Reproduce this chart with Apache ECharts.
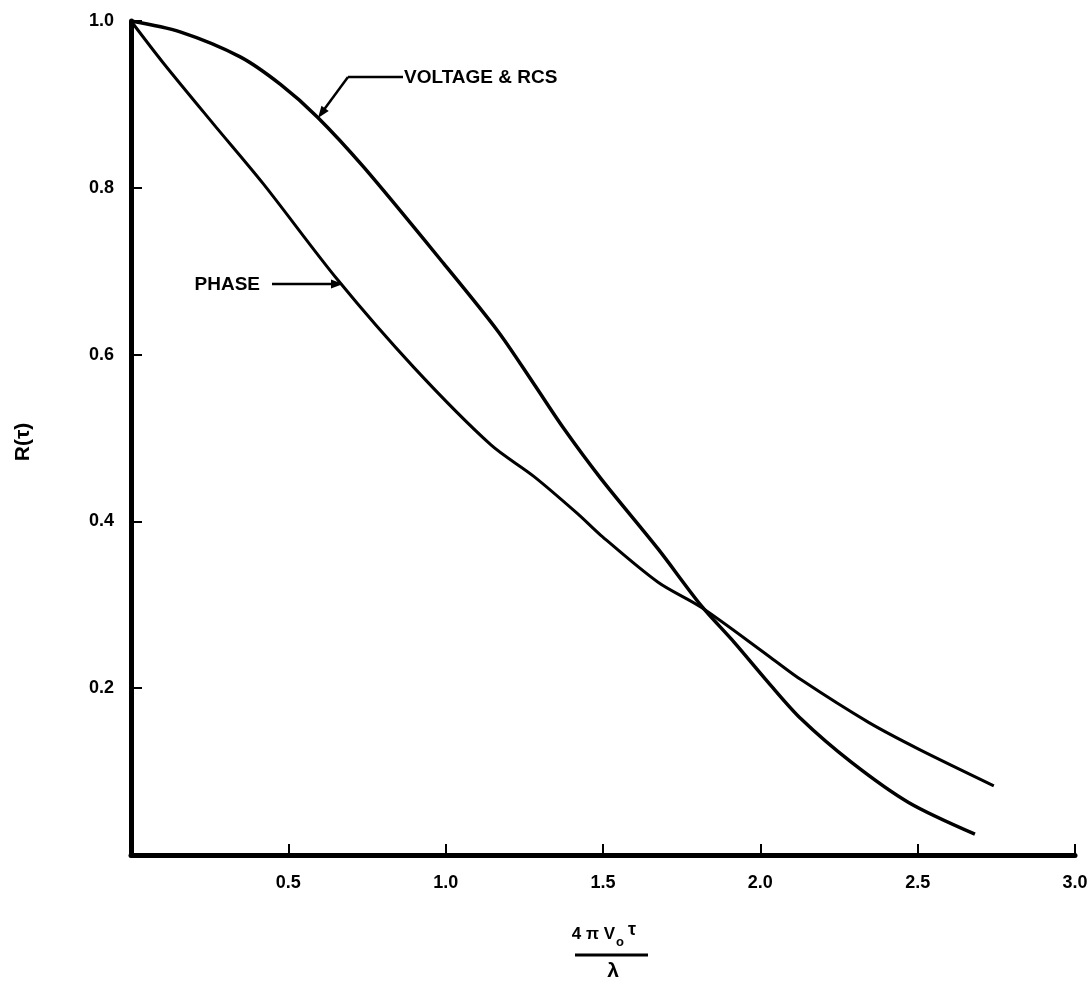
<!DOCTYPE html>
<html>
<head>
<meta charset="utf-8">
<script src="https://cdn.jsdelivr.net/npm/echarts@6/dist/echarts.min.js"></script>
<style>
html,body{margin:0;padding:0;background:#fff;}
#chart{width:1091px;height:986px;}
</style>
</head>
<body>
<div id="chart"></div>
<script>
// Voltage & RCS curve (x, R)
const voltageX = [0, 0.156, 0.347, 0.475, 0.592, 0.739, 0.994, 1.166, 1.28, 1.376, 1.494, 1.675, 1.812, 1.917, 2.025, 2.13, 2.29, 2.471, 2.682];
const voltageY = [1.0, 0.987, 0.957, 0.924, 0.885, 0.825, 0.709, 0.628, 0.565, 0.511, 0.451, 0.367, 0.299, 0.255, 0.207, 0.163, 0.111, 0.063, 0.025];
// Phase curve (x, R)
const phaseX = [0, 0.102, 0.261, 0.42, 0.656, 0.898, 1.143, 1.28, 1.42, 1.494, 1.675, 1.812, 2.025, 2.13, 2.344, 2.503, 2.742];
const phaseY = [1.0, 0.950, 0.877, 0.805, 0.690, 0.585, 0.492, 0.454, 0.409, 0.383, 0.327, 0.297, 0.239, 0.210, 0.159, 0.127, 0.083];
// Tick labels
const xTickLabels = ['0.5', '1.0', '1.5', '2.0', '2.5', '3.0'];
const yTickLabels = ['0.2', '0.4', '0.6', '0.8', '1.0'];

const FONT = '"Liberation Sans", Arial, sans-serif';
const chart = echarts.init(document.getElementById('chart'), null, {renderer: 'canvas'});

function pairs(xs, ys) { return xs.map((x, i) => [x, ys[i]]); }

function arrowHead(tx, ty, fx, fy, L, w) {
  let dx = tx - fx, dy = ty - fy;
  const n = Math.sqrt(dx * dx + dy * dy); dx /= n; dy /= n;
  const bx = tx - dx * L, by = ty - dy * L;
  return {type: 'polygon', shape: {points: [[tx, ty], [bx - dy * w, by + dx * w], [bx + dy * w, by - dx * w]]}, style: {fill: '#000'}};
}

const lineStyle = {stroke: '#000', lineWidth: 2.5};
const boldText = (t, x, y, size, align, vAlign, extra) => Object.assign({
  type: 'text', x: x, y: y,
  style: {text: t, font: 'bold ' + size + 'px ' + FONT, fill: '#000', align: align, verticalAlign: vAlign}
}, extra || {});

const option = {
  backgroundColor: '#fff',
  animation: false,
  grid: {left: 131, right: 16, top: 21, bottom: 131, containLabel: false},
  xAxis: {
    type: 'value', min: 0, max: 3, interval: 0.5,
    axisLine: {show: true, lineStyle: {color: '#000', width: 5}},
    axisTick: {show: true, inside: true, length: 11, lineStyle: {color: '#000', width: 2}},
    splitLine: {show: false},
    axisLabel: {
      margin: 19, color: '#000', fontFamily: FONT, fontWeight: 'bold', fontSize: 18,
      formatter: function (v) { const s = v.toFixed(1); return xTickLabels.indexOf(s) >= 0 ? s : ''; }
    }
  },
  yAxis: {
    type: 'value', min: 0, max: 1, interval: 0.2,
    axisLine: {show: true, lineStyle: {color: '#000', width: 5}},
    axisTick: {show: true, inside: true, length: 11, lineStyle: {color: '#000', width: 2}},
    splitLine: {show: false},
    axisLabel: {
      margin: 17, color: '#000', fontFamily: FONT, fontWeight: 'bold', fontSize: 18,
      formatter: function (v) { const s = v.toFixed(1); return yTickLabels.indexOf(s) >= 0 ? s : ''; }
    }
  },
  series: [
    {
      name: 'VOLTAGE & RCS', type: 'line', data: pairs(voltageX, voltageY),
      smooth: 0.3, showSymbol: false,
      lineStyle: {color: '#000', width: 3.5}
    },
    {
      name: 'PHASE', type: 'line', data: pairs(phaseX, phaseY),
      smooth: 0.3, showSymbol: false,
      lineStyle: {color: '#000', width: 3}
    }
  ],
  graphic: [
    // VOLTAGE & RCS annotation
    {type: 'line', shape: {x1: 348, y1: 77, x2: 403, y2: 77}, style: lineStyle},
    {type: 'line', shape: {x1: 348, y1: 77, x2: 323, y2: 111}, style: lineStyle},
    arrowHead(318, 118, 348, 77, 12, 4.5),
    boldText('VOLTAGE & RCS', 404, 78, 19, 'left', 'middle'),
    // PHASE annotation
    boldText('PHASE', 260, 285, 19, 'right', 'middle'),
    {type: 'line', shape: {x1: 272, y1: 284, x2: 334, y2: 284}, style: lineStyle},
    arrowHead(343, 284, 272, 284, 12, 4.5),
    // y-axis name
    boldText('R(τ)', 23, 442, 21, 'center', 'middle', {rotation: Math.PI / 2}),
    // x-axis name as a fraction
    boldText('4 π V', 615, 934, 17, 'right', 'middle'),
    boldText('o', 616, 942, 13, 'left', 'middle'),
    boldText('τ', 628, 930, 18, 'left', 'middle'),
    {type: 'line', shape: {x1: 575, y1: 955, x2: 648, y2: 955}, style: {stroke: '#000', lineWidth: 3}},
    boldText('λ', 613, 971, 21, 'center', 'middle')
  ]
};
chart.setOption(option);
</script>
</body>
</html>
